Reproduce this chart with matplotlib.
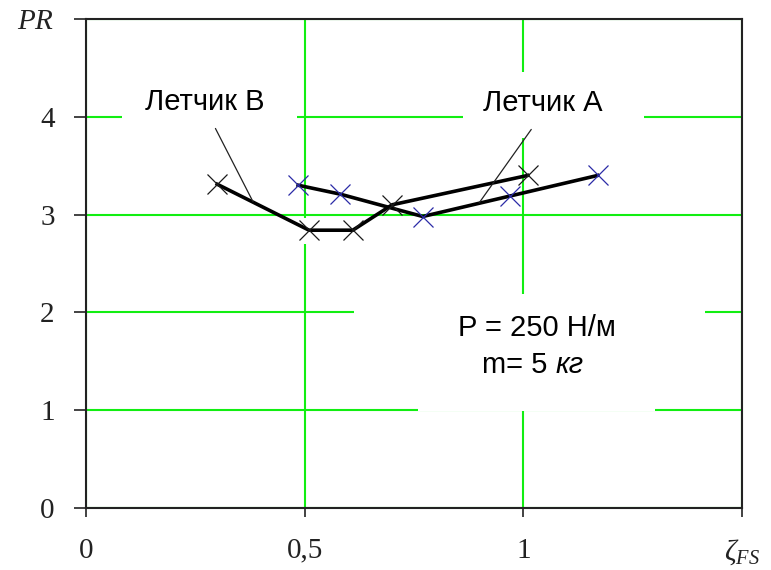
import matplotlib
matplotlib.use("Agg")
import matplotlib.pyplot as plt
from matplotlib.patches import Rectangle

plt.rcParams["mathtext.fontset"] = "custom"
plt.rcParams["mathtext.it"] = "Liberation Serif:style=italic"
plt.rcParams["mathtext.rm"] = "Liberation Serif"

# pilot B (black crosses) and pilot A (blue crosses)
zeta_b = [0.30, 0.51, 0.61, 0.70, 1.01]
pr_b = [3.31, 2.84, 2.84, 3.10, 3.40]
zeta_a = [0.485, 0.58, 0.77, 0.97, 1.17]
pr_a = [3.30, 3.21, 2.98, 3.19, 3.40]

x_ticks = [0, 0.5, 1, 1.5]
x_ticklabels = ["0", "0,5", "1", r"$\zeta_{FS}$"]
y_ticks = [0, 1, 2, 3, 4, 5]
y_ticklabels = ["0", "1", "2", "3", "4", r"$PR$"]

GRID = "#12ee12"
TICK_FONT = "Liberation Serif"
LABEL_FONT = "Liberation Sans"

fig = plt.figure(figsize=(7.71, 5.70), dpi=100)
ax = fig.add_axes([0.1115, 0.1088, 0.851, 0.858])
ax.set_xlim(0, 1.5)
ax.set_ylim(0, 5)

ax.set_xticks(x_ticks)
ax.set_xticklabels(x_ticklabels, fontfamily=TICK_FONT, fontsize=21)
ax.set_yticks(y_ticks)
ax.set_yticklabels(y_ticklabels, fontfamily=TICK_FONT, fontsize=21)
ax.tick_params(axis="x", direction="out", length=6.5, width=1.2, pad=15, colors="#222")
ax.tick_params(axis="y", direction="out", length=8.5, width=1.2, pad=14, colors="#222")
for side in ax.spines.values():
    side.set_linewidth(1.5)
    side.set_color("#222")

ax.set_axisbelow(True)
ax.grid(True, color=GRID, linewidth=1.5)

# white backing under the text blocks cuts the grid lines
masks = [
    (0.082, 3.78, 0.401, 0.68),
    (0.861, 3.78, 0.414, 0.68),
    (0.612, 1.70, 0.804, 0.49),
    (0.760, 0.99, 0.541, 0.72),
    (0.490, 2.70, 0.020, 0.26),
]
for x0, y0, w, h in masks:
    ax.add_patch(Rectangle((x0, y0), w, h, facecolor="white", edgecolor="none", zorder=1))

ax.plot(zeta_b, pr_b, color="black", lw=2.6, zorder=3)
ax.plot(zeta_a, pr_a, color="black", lw=2.6, zorder=3)
ax.plot(zeta_b, pr_b, ls="none", marker="x", ms=15, mew=0.9, color="#1a1a1a", zorder=4)
ax.plot(zeta_a, pr_a, ls="none", marker="x", ms=15, mew=0.9, color="#2b2ba6", zorder=4)

# leader lines from the labels to their curves
leaders = [((0.296, 3.88), (0.382, 3.13)), ((1.018, 3.87), (0.899, 3.12))]
for start, end in leaders:
    ax.annotate("", xy=end, xytext=start,
                arrowprops=dict(arrowstyle="-", lw=0.9, color="#222",
                                shrinkA=0, shrinkB=0), zorder=5)

ax.text(0.272, 4.07, "Летчик В", ha="center", va="baseline",
        fontfamily=LABEL_FONT, fontsize=21, zorder=6)
ax.text(1.045, 4.06, "Летчик А", ha="center", va="baseline",
        fontfamily=LABEL_FONT, fontsize=21, zorder=6)
ax.text(1.031, 1.76, "P = 250 Н/м", ha="center", va="baseline",
        fontfamily=LABEL_FONT, fontsize=21, zorder=6)
mass = ax.text(0.906, 1.375, "m= 5", ha="left", va="baseline",
               fontfamily=LABEL_FONT, fontsize=21, zorder=6)
ax.annotate("кг", xy=(1, 0), xycoords=mass, xytext=(6, 0),
            textcoords="offset points", ha="left", va="bottom",
            fontfamily=LABEL_FONT, fontsize=21, fontstyle="italic", zorder=6)

fig.savefig("out.png", dpi=100, facecolor="white")
